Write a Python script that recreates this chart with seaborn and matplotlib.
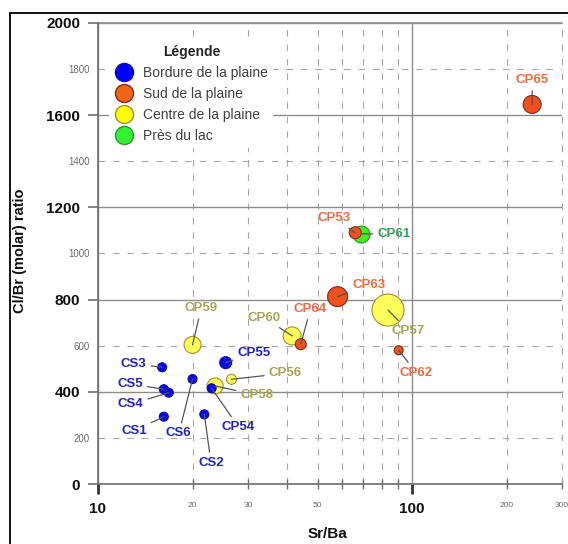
import matplotlib
matplotlib.use("Agg")
import matplotlib.pyplot as plt
from matplotlib.ticker import FixedLocator, FuncFormatter
from matplotlib.lines import Line2D
import pandas as pd
import seaborn as sns

sns.set_theme(style="white")
plt.rcParams["font.family"] = ["Liberation Sans", "DejaVu Sans"]

# ---- data -------------------------------------------------------------
samples = ["CS1", "CS2", "CS3", "CS4", "CS5", "CS6", "CP54", "CP55",
           "CP53", "CP62", "CP63", "CP64", "CP65",
           "CP56", "CP57", "CP58", "CP59", "CP60",
           "CP61"]
sr_ba = [16.2, 21.8, 16.0, 16.8, 16.2, 20.0, 23.0, 25.5,
         65.9, 90.6, 57.9, 44.2, 241.0,
         26.6, 83.8, 23.6, 20.0, 41.5,
         68.8]
cl_br = [293, 303, 507, 397, 412, 456, 416, 527,
         1090, 581, 813, 607, 1646,
         455, 755, 426, 604, 643,
         1085]
zone = ["Bordure de la plaine"] * 8 + ["Sud de la plaine"] * 5 + \
       ["Centre de la plaine"] * 5 + ["Près du lac"]
# third variable shown by the bubble area (relative units)
magnitude = [81, 81, 81, 81, 81, 81, 81, 144,
             144, 81, 400, 121, 324,
             100, 1024, 256, 289, 324,
             289]

zones = ["Bordure de la plaine", "Sud de la plaine",
         "Centre de la plaine", "Près du lac"]

# ---- styling ------------------------------------------------------------
fill = {"Bordure de la plaine": "#0a0ae6", "Sud de la plaine": "#f0501e",
        "Centre de la plaine": "#ffff5a", "Près du lac": "#44ee22"}
edge = {"Bordure de la plaine": "#0a0ab4", "Sud de la plaine": "#7a3020",
        "Centre de la plaine": "#a09030", "Près du lac": "#2e9a22"}
legend_fill = {"Bordure de la plaine": "#0000ff", "Sud de la plaine": "#f06414",
               "Centre de la plaine": "#ffff00", "Près du lac": "#33f033"}
text_col = {"Bordure de la plaine": "#2323be", "Sud de la plaine": "#ee6a3f",
            "Centre de la plaine": "#a5a555", "Près du lac": "#2e9e5a"}

# label offsets (points) from each sample
offsets = {"CS1": (-21.6, -10.3), "CS2": (4.8, -34.8), "CS3": (-20.4, 2.4),
           "CS4": (-27.4, -8.4), "CS5": (-24.3, 3.8), "CS6": (-9.9, -39.1),
           "CP54": (19.4, -27.9), "CP55": (20.2, 6.8), "CP53": (-14.9, 10.4),
           "CP62": (12.7, -16.1), "CP63": (22.6, 8.4), "CP64": (7.0, 25.4),
           "CP65": (0.0, 17.5), "CP56": (38.7, 4.3), "CP57": (14.8, -14.9),
           "CP58": (30.0, -6.5), "CP59": (6.2, 26.4), "CP60": (-20.4, 13.2),
           "CP61": (23.5, -0.2)}

df = pd.DataFrame({"sample": samples, "sr_ba": sr_ba, "cl_br": cl_br,
                   "zone": zone, "magnitude": magnitude})

W, H = 568, 544
fig = plt.figure(figsize=(W / 100, H / 100), dpi=100)
fig.patch.set_facecolor("white")
ax = fig.add_axes([98 / W, 1 - 484.3 / H, (562 - 98) / W, (484.3 - 22.7) / H])

# bubble area in pt^2 proportional to magnitude (px^2 -> pt^2)
px2pt2 = (72 / 100) ** 2
mmin, mmax = min(magnitude), max(magnitude)

draw_order = ["Centre de la plaine", "Près du lac", "Sud de la plaine",
              "Bordure de la plaine"]
for i, z in enumerate(draw_order):
    sub = df[df["zone"] == z]
    sns.scatterplot(data=sub, x="sr_ba", y="cl_br", size="magnitude",
                    sizes=(mmin * px2pt2, mmax * px2pt2), size_norm=(mmin, mmax),
                    color=fill[z], edgecolor=edge[z], linewidth=0.8,
                    legend=False, ax=ax, zorder=3 + i)

for _, r in df.iterrows():
    ax.annotate(r["sample"], xy=(r["sr_ba"], r["cl_br"]),
                xytext=offsets[r["sample"]], textcoords="offset points",
                ha="center", va="center", fontsize=9.5, fontweight="bold",
                color=text_col[r["zone"]], zorder=10,
                arrowprops=dict(arrowstyle="-", color="#555555", lw=0.9,
                                shrinkA=1, shrinkB=0))

# ---- axes ---------------------------------------------------------------
ax.set_xscale("log")
ax.set_xlim(10, 300)
ax.set_ylim(0, 2000)
ax.set_xlabel("")
ax.set_ylabel("")

ax.xaxis.set_major_locator(FixedLocator([10, 100]))
ax.xaxis.set_minor_locator(FixedLocator([20, 30, 40, 50, 60, 70, 80, 90, 200, 300]))
ax.xaxis.set_major_formatter(FuncFormatter(lambda v, p: f"{v:g}"))
ax.xaxis.set_minor_formatter(FuncFormatter(
    lambda v, p: f"{v:g}" if round(v) in (20, 30, 50, 200, 300) else ""))
ax.yaxis.set_major_locator(FixedLocator(list(range(0, 2001, 400))))
ax.yaxis.set_minor_locator(FixedLocator([200, 600, 1000, 1400, 1800]))
ax.yaxis.set_major_formatter(FuncFormatter(lambda v, p: f"{v:g}"))
ax.yaxis.set_minor_formatter(FuncFormatter(lambda v, p: f"{v:g}"))

ax.grid(which="major", color="#8c8c8c", lw=1.0, ls="-")
ax.grid(which="minor", color="#a8a8a8", lw=0.8, ls=(0, (6, 7)))
ax.axvline(300, color="#a8a8a8", lw=0.8, ls=(0, (6, 7)), clip_on=False, zorder=1)
ax.set_axisbelow(True)

for s in ("top", "right"):
    ax.spines[s].set_visible(False)
for s in ("left", "bottom"):
    ax.spines[s].set_color("#6e6e6e")
    ax.spines[s].set_linewidth(1.2)
ax.axhline(2000, color="#8c8c8c", lw=1.2, clip_on=False, zorder=1)

ax.tick_params(axis="y", which="major", direction="out", length=7.2, width=1.2,
               color="#6e6e6e", labelsize=11, pad=5.5, labelcolor="#111111", left=True)
ax.tick_params(axis="y", which="minor", length=0, labelsize=7, pad=5.8,
               labelcolor="#6a6a6a", left=True)
ax.tick_params(axis="x", which="major", direction="out", length=7.2, width=2,
               color="#333333", labelsize=11, pad=5.5, labelcolor="#111111", bottom=True)
ax.tick_params(axis="x", which="minor", direction="inout", length=7, width=1,
               color="#6e6e6e", labelsize=6, pad=9, labelcolor="#6a6a6a", bottom=True)
for t in ax.yaxis.get_majorticklabels() + ax.xaxis.get_majorticklabels():
    t.set_fontweight("bold")

fig.text(20 / W, 1 - 251 / H, "Cl/Br (molar) ratio", rotation=90, ha="center",
         va="center", fontsize=10.5, fontweight="bold", color="#111111")
fig.text(327 / W, 1 - 527 / H, "Sr/Ba", ha="center", va="top",
         fontsize=11, fontweight="bold", color="#111111")

# ---- legend -------------------------------------------------------------
handles = [Line2D([], [], marker="o", ls="", markersize=13,
                  markerfacecolor=legend_fill[z], markeredgecolor=edge[z],
                  markeredgewidth=1.0) for z in zones]
leg = ax.legend(handles, zones, title="Légende", loc="upper left",
                bbox_to_anchor=(109.4 / W, 1 - 39.5 / H),
                bbox_transform=fig.transFigure, frameon=True, framealpha=1,
                facecolor="white", edgecolor="none", fontsize=10,
                title_fontproperties={"weight": "bold", "size": 10},
                labelspacing=0.5, handlelength=1.3, handletextpad=0.72,
                borderpad=0.4, borderaxespad=0, labelcolor="#404040")
leg.get_frame().set_linewidth(0)
leg.set_zorder(20)

# outer frame of the figure
fig.add_artist(Line2D([10 / W, 10 / W], [-0.1, 1 - 13 / H], color="black",
                      lw=1.3, transform=fig.transFigure))
fig.add_artist(Line2D([10 / W, 1.0], [1 - 13 / H, 1 - 13 / H], color="black",
                      lw=1.3, transform=fig.transFigure))

fig.savefig("out.png", dpi=100, facecolor="white")
